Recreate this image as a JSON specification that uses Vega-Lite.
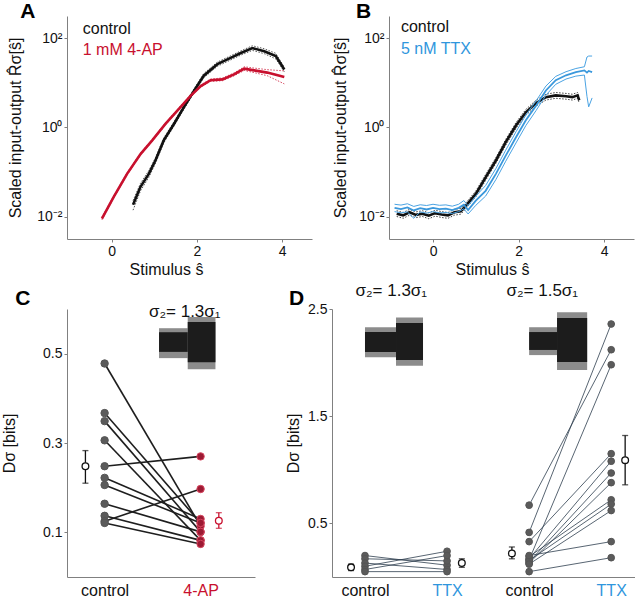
{
  "$schema": "https://vega.github.io/schema/vega-lite/v6.json",
  "padding": {"left": 1, "top": 0, "right": 0, "bottom": 0},
  "config": {
    "font": "Liberation Sans",
    "view": {"stroke": null},
    "axis": {"grid": false, "domainColor": "#808080", "tickColor": "#808080", "labelColor": "#111111", "titleColor": "#111111", "labelFontSize": 14, "titleFontSize": 16, "titleFontWeight": "normal", "tickSize": 3, "labelFont": "Liberation Sans", "titleFont": "Liberation Sans"}
  },
  "datasets": {
    "curveA": [
      {"s":"control","x":0.50,"y":0.0186,"lo":0.014,"hi":0.023},
      {"s":"control","x":0.675,"y":0.0468,"lo":0.038,"hi":0.056},
      {"s":"control","x":0.87,"y":0.0912,"lo":0.076,"hi":0.108},
      {"s":"control","x":1.03,"y":0.186,"lo":0.16,"hi":0.215},
      {"s":"control","x":1.22,"y":0.513,"lo":0.45,"hi":0.58},
      {"s":"control","x":1.46,"y":1.2,"lo":1.07,"hi":1.35},
      {"s":"control","x":1.69,"y":2.82,"lo":2.52,"hi":3.15},
      {"s":"control","x":1.93,"y":6.61,"lo":5.9,"hi":7.4},
      {"s":"control","x":2.16,"y":14.5,"lo":13.0,"hi":16.2},
      {"s":"control","x":2.48,"y":26.3,"lo":23.6,"hi":29.3},
      {"s":"control","x":2.79,"y":36.3,"lo":32.6,"hi":40.5},
      {"s":"control","x":3.03,"y":46.8,"lo":42.0,"hi":52.2},
      {"s":"control","x":3.3,"y":60.3,"lo":53.5,"hi":68.0},
      {"s":"control","x":3.58,"y":51.3,"lo":45.2,"hi":58.2},
      {"s":"control","x":3.85,"y":39.8,"lo":34.5,"hi":46.0},
      {"s":"control","x":4.05,"y":20.0,"lo":17.8,"hi":22.5},
      {"s":"4-AP","x":-0.23,"y":0.0091,"lo":0.0085,"hi":0.0098},
      {"s":"4-AP","x":0.05,"y":0.0282,"lo":0.0265,"hi":0.030},
      {"s":"4-AP","x":0.36,"y":0.0912,"lo":0.086,"hi":0.097},
      {"s":"4-AP","x":0.68,"y":0.257,"lo":0.243,"hi":0.272},
      {"s":"4-AP","x":0.95,"y":0.513,"lo":0.485,"hi":0.542},
      {"s":"4-AP","x":1.26,"y":1.2,"lo":1.13,"hi":1.27},
      {"s":"4-AP","x":1.54,"y":2.4,"lo":2.27,"hi":2.54},
      {"s":"4-AP","x":1.85,"y":5.13,"lo":4.85,"hi":5.42},
      {"s":"4-AP","x":2.09,"y":8.51,"lo":8.0,"hi":9.0},
      {"s":"4-AP","x":2.32,"y":11.5,"lo":10.8,"hi":12.2},
      {"s":"4-AP","x":2.6,"y":12.0,"lo":11.2,"hi":12.9},
      {"s":"4-AP","x":2.87,"y":15.5,"lo":14.4,"hi":16.7},
      {"s":"4-AP","x":3.11,"y":20.9,"lo":19.0,"hi":23.0},
      {"s":"4-AP","x":3.34,"y":19.1,"lo":17.0,"hi":21.5},
      {"s":"4-AP","x":3.65,"y":17.0,"lo":14.5,"hi":19.8},
      {"s":"4-AP","x":4.05,"y":13.5,"lo":9.5,"hi":18.6}
    ],
    "curveB": [
      {"s":"control","x":-0.85,"y":0.0117,"lo":0.0101,"hi":0.0136},
      {"s":"control","x":-0.7,"y":0.0107,"lo":0.0092,"hi":0.0124},
      {"s":"control","x":-0.55,"y":0.0126,"lo":0.0108,"hi":0.0146},
      {"s":"control","x":-0.4,"y":0.011,"lo":0.0095,"hi":0.0128},
      {"s":"control","x":-0.25,"y":0.0117,"lo":0.0101,"hi":0.0136},
      {"s":"control","x":-0.1,"y":0.0105,"lo":0.009,"hi":0.0122},
      {"s":"control","x":0.05,"y":0.012,"lo":0.0103,"hi":0.0139},
      {"s":"control","x":0.2,"y":0.0112,"lo":0.0096,"hi":0.013},
      {"s":"control","x":0.35,"y":0.0107,"lo":0.0092,"hi":0.0124},
      {"s":"control","x":0.5,"y":0.0126,"lo":0.0108,"hi":0.0146},
      {"s":"control","x":0.65,"y":0.0132,"lo":0.0114,"hi":0.0153},
      {"s":"control","x":0.77,"y":0.0178,"lo":0.0153,"hi":0.0206},
      {"s":"control","x":1.0,"y":0.0324,"lo":0.0279,"hi":0.0376},
      {"s":"control","x":1.23,"y":0.0759,"lo":0.0653,"hi":0.088},
      {"s":"control","x":1.47,"y":0.182,"lo":0.157,"hi":0.211},
      {"s":"control","x":1.7,"y":0.468,"lo":0.402,"hi":0.543},
      {"s":"control","x":1.94,"y":1.11,"lo":0.955,"hi":1.29},
      {"s":"control","x":2.17,"y":2.19,"lo":1.88,"hi":2.54},
      {"s":"control","x":2.41,"y":3.55,"lo":3.05,"hi":4.12},
      {"s":"control","x":2.64,"y":4.79,"lo":4.12,"hi":5.56},
      {"s":"control","x":2.87,"y":5.25,"lo":4.52,"hi":6.09},
      {"s":"control","x":3.11,"y":5.01,"lo":4.31,"hi":5.81},
      {"s":"control","x":3.26,"y":4.79,"lo":4.12,"hi":5.56},
      {"s":"control","x":3.38,"y":5.25,"lo":4.52,"hi":6.09},
      {"s":"control","x":3.42,"y":4.07,"lo":3.5,"hi":4.72},
      {"s":"TTX","x":-0.9,"y":0.0158,"lo":0.013,"hi":0.019},
      {"s":"TTX","x":-0.75,"y":0.0148,"lo":0.0122,"hi":0.0182},
      {"s":"TTX","x":-0.6,"y":0.0162,"lo":0.0128,"hi":0.0195},
      {"s":"TTX","x":-0.45,"y":0.0138,"lo":0.0092,"hi":0.017},
      {"s":"TTX","x":-0.3,"y":0.0155,"lo":0.0128,"hi":0.0185},
      {"s":"TTX","x":-0.15,"y":0.0145,"lo":0.012,"hi":0.0178},
      {"s":"TTX","x":0.0,"y":0.0158,"lo":0.013,"hi":0.019},
      {"s":"TTX","x":0.15,"y":0.0148,"lo":0.0122,"hi":0.018},
      {"s":"TTX","x":0.3,"y":0.0151,"lo":0.0124,"hi":0.0184},
      {"s":"TTX","x":0.45,"y":0.0141,"lo":0.0118,"hi":0.0172},
      {"s":"TTX","x":0.6,"y":0.0158,"lo":0.013,"hi":0.019},
      {"s":"TTX","x":0.72,"y":0.0185,"lo":0.015,"hi":0.023},
      {"s":"TTX","x":0.82,"y":0.0141,"lo":0.0115,"hi":0.0175},
      {"s":"TTX","x":1.0,"y":0.0229,"lo":0.018,"hi":0.029},
      {"s":"TTX","x":1.23,"y":0.038,"lo":0.029,"hi":0.05},
      {"s":"TTX","x":1.47,"y":0.0912,"lo":0.068,"hi":0.12},
      {"s":"TTX","x":1.7,"y":0.234,"lo":0.175,"hi":0.31},
      {"s":"TTX","x":1.94,"y":0.603,"lo":0.45,"hi":0.8},
      {"s":"TTX","x":2.17,"y":1.45,"lo":1.1,"hi":1.9},
      {"s":"TTX","x":2.41,"y":3.09,"lo":2.4,"hi":3.95},
      {"s":"TTX","x":2.64,"y":6.76,"lo":5.3,"hi":8.5},
      {"s":"TTX","x":2.87,"y":11.5,"lo":9.3,"hi":14.0},
      {"s":"TTX","x":3.11,"y":14.8,"lo":12.2,"hi":17.8},
      {"s":"TTX","x":3.34,"y":17.4,"lo":14.2,"hi":21.0},
      {"s":"TTX","x":3.54,"y":19.1,"lo":15.0,"hi":23.0},
      {"s":"TTX","x":3.6,"y":17.0,"lo":5.0,"hi":38.0},
      {"s":"TTX","x":3.64,"y":18.5,"lo":2.9,"hi":40.0},
      {"s":"TTX","x":3.72,"y":17.4,"lo":4.6,"hi":40.0}
    ],
    "insets": [
      {"p":"C","k":"fringe","x":1.567,"x2":1.866,"y":0.557,"y2":0.49},
      {"p":"C","k":"fringe","x":1.866,"x2":2.155,"y":0.582,"y2":0.465},
      {"p":"C","k":"core","x":1.567,"x2":1.866,"y":0.548,"y2":0.504},
      {"p":"C","k":"core","x":1.866,"x2":2.155,"y":0.571,"y2":0.481},
      {"p":"D","k":"fringe","x":1.0,"x2":1.378,"y":2.33,"y2":2.05},
      {"p":"D","k":"fringe","x":1.378,"x2":1.707,"y":2.42,"y2":1.97},
      {"p":"D","k":"fringe","x":3.0,"x2":3.34,"y":2.33,"y2":2.07},
      {"p":"D","k":"fringe","x":3.34,"x2":3.707,"y":2.47,"y2":1.93},
      {"p":"D","k":"core","x":1.0,"x2":1.378,"y":2.285,"y2":2.099},
      {"p":"D","k":"core","x":1.378,"x2":1.707,"y":2.369,"y2":2.024},
      {"p":"D","k":"core","x":3.0,"x2":3.34,"y":2.285,"y2":2.118},
      {"p":"D","k":"core","x":3.34,"x2":3.707,"y":2.416,"y2":2.006}
    ],
    "pairsC": [
      {"id":1,"x":1,"y":0.478,"g":"control"},{"id":1,"x":2,"y":0.114,"g":"4-AP"},
      {"id":2,"x":1,"y":0.367,"g":"control"},{"id":2,"x":2,"y":0.121,"g":"4-AP"},
      {"id":3,"x":1,"y":0.349,"g":"control"},{"id":3,"x":2,"y":0.101,"g":"4-AP"},
      {"id":4,"x":1,"y":0.306,"g":"control"},{"id":4,"x":2,"y":0.082,"g":"4-AP"},
      {"id":5,"x":1,"y":0.248,"g":"control"},{"id":5,"x":2,"y":0.270,"g":"4-AP"},
      {"id":6,"x":1,"y":0.222,"g":"control"},{"id":6,"x":2,"y":0.130,"g":"4-AP"},
      {"id":7,"x":1,"y":0.206,"g":"control"},{"id":7,"x":2,"y":0.121,"g":"4-AP"},
      {"id":8,"x":1,"y":0.164,"g":"control"},{"id":8,"x":2,"y":0.101,"g":"4-AP"},
      {"id":9,"x":1,"y":0.137,"g":"control"},{"id":9,"x":2,"y":0.082,"g":"4-AP"},
      {"id":10,"x":1,"y":0.125,"g":"control"},{"id":10,"x":2,"y":0.197,"g":"4-AP"},
      {"id":11,"x":1,"y":0.121,"g":"control"},{"id":11,"x":2,"y":0.074,"g":"4-AP"}
    ],
    "meansC": [
      {"g":"control","x":0.8,"y":0.248,"lo":0.21,"hi":0.283},
      {"g":"4-AP","x":2.19,"y":0.126,"lo":0.109,"hi":0.144}
    ],
    "pairsD": [
      {"id":1,"x":1,"y":0.20,"g":"control"},{"id":1,"x":2,"y":0.11,"g":"TTX"},
      {"id":2,"x":1,"y":0.17,"g":"control"},{"id":2,"x":2,"y":0.15,"g":"TTX"},
      {"id":3,"x":1,"y":0.13,"g":"control"},{"id":3,"x":2,"y":0.07,"g":"TTX"},
      {"id":4,"x":1,"y":0.10,"g":"control"},{"id":4,"x":2,"y":0.24,"g":"TTX"},
      {"id":5,"x":1,"y":0.07,"g":"control"},{"id":5,"x":2,"y":0.20,"g":"TTX"},
      {"id":6,"x":1,"y":0.05,"g":"control"},{"id":6,"x":2,"y":0.05,"g":"TTX"},
      {"id":7,"x":3,"y":0.416,"g":"control"},{"id":7,"x":4,"y":2.36,"g":"TTX"},
      {"id":8,"x":3,"y":0.67,"g":"control"},{"id":8,"x":4,"y":2.12,"g":"TTX"},
      {"id":9,"x":3,"y":0.16,"g":"control"},{"id":9,"x":4,"y":1.98,"g":"TTX"},
      {"id":10,"x":3,"y":0.33,"g":"control"},{"id":10,"x":4,"y":1.15,"g":"TTX"},
      {"id":11,"x":3,"y":0.17,"g":"control"},{"id":11,"x":4,"y":1.08,"g":"TTX"},
      {"id":12,"x":3,"y":0.14,"g":"control"},{"id":12,"x":4,"y":0.97,"g":"TTX"},
      {"id":13,"x":3,"y":0.13,"g":"control"},{"id":13,"x":4,"y":0.88,"g":"TTX"},
      {"id":14,"x":3,"y":0.19,"g":"control"},{"id":14,"x":4,"y":0.72,"g":"TTX"},
      {"id":15,"x":3,"y":0.155,"g":"control"},{"id":15,"x":4,"y":0.68,"g":"TTX"},
      {"id":16,"x":3,"y":0.12,"g":"control"},{"id":16,"x":4,"y":0.62,"g":"TTX"},
      {"id":17,"x":3,"y":0.20,"g":"control"},{"id":17,"x":4,"y":0.33,"g":"TTX"},
      {"id":18,"x":3,"y":0.05,"g":"control"},{"id":18,"x":4,"y":0.18,"g":"TTX"}
    ],
    "meansD": [
      {"g":"control","x":0.83,"y":0.09,"lo":0.06,"hi":0.12},
      {"g":"TTX","x":2.18,"y":0.13,"lo":0.09,"hi":0.17},
      {"g":"control","x":2.79,"y":0.22,"lo":0.17,"hi":0.28},
      {"g":"TTX","x":4.17,"y":1.09,"lo":0.86,"hi":1.32}
    ]
  },
  "spacing": 4,
  "vconcat": [
    {
      "spacing": 77,
      "bounds": "flush",
      "hconcat": [
        {
          "width": 245, "height": 223,
          "layer": [
            {
              "data": {"name": "curveA"},
              "mark": {"type": "line", "strokeWidth": 1, "strokeDash": [1.5, 1.5]},
              "encoding": {
                "x": {"field": "x", "type": "quantitative", "scale": {"domain": [-1.05, 4.7], "nice": false, "zero": false}, "axis": {"values": [0, 2, 4], "title": "Stimulus ŝ", "titleX": 99, "titlePadding": 3}},
                "y": {"field": "lo", "type": "quantitative", "scale": {"type": "log", "domain": [0.00316, 316], "nice": false}, "axis": {"values": [0.01, 1, 100], "labelExpr": "datum.value >= 50 ? '10²' : datum.value >= 0.5 ? '10⁰' : '10⁻²'", "title": "Scaled input-output  R̂σ[ŝ]", "titlePadding": 13}},
                "stroke": {"field": "s", "type": "nominal", "scale": {"domain": ["control", "4-AP"], "range": ["#555555", "#d6455e"]}, "legend": null}
              }
            },
            {
              "data": {"name": "curveA"},
              "mark": {"type": "line", "strokeWidth": 1, "strokeDash": [1.5, 1.5]},
              "encoding": {
                "x": {"field": "x", "type": "quantitative"},
                "y": {"field": "hi", "type": "quantitative"},
                "stroke": {"field": "s", "type": "nominal", "legend": null}
              }
            },
            {
              "data": {"name": "curveA"},
              "mark": {"type": "line", "strokeWidth": 2.6},
              "encoding": {
                "x": {"field": "x", "type": "quantitative"},
                "y": {"field": "y", "type": "quantitative"},
                "color": {"field": "s", "type": "nominal", "scale": {"domain": ["control", "4-AP"], "range": ["#111111", "#c8102e"]}, "legend": null}
              }
            },
            {
              "data": {"values": [{"t": "control", "x": -0.68, "y": 158}]},
              "mark": {"type": "text", "align": "left", "baseline": "middle", "fontSize": 16, "color": "#111111"},
              "encoding": {"x": {"field": "x", "type": "quantitative"}, "y": {"field": "y", "type": "quantitative"}, "text": {"field": "t"}}
            },
            {
              "data": {"values": [{"t": "1 mM 4-AP", "x": -0.68, "y": 54}]},
              "mark": {"type": "text", "align": "left", "baseline": "middle", "fontSize": 16, "color": "#c8102e"},
              "encoding": {"x": {"field": "x", "type": "quantitative"}, "y": {"field": "y", "type": "quantitative"}, "text": {"field": "t"}}
            },
            {
              "data": {"values": [{"t": "A", "x": -2.15, "y": 285}]},
              "mark": {"type": "text", "align": "left", "baseline": "alphabetic", "fontSize": 21, "fontWeight": "bold", "color": "#000000"},
              "encoding": {"x": {"field": "x", "type": "quantitative"}, "y": {"field": "y", "type": "quantitative"}, "text": {"field": "t"}}
            }
          ]
        },
        {
          "width": 245, "height": 223,
          "layer": [
            {
              "data": {"name": "curveB"},
              "transform": [{"filter": "datum.s == 'control'"}],
              "mark": {"type": "line", "strokeWidth": 1, "strokeDash": [1.5, 1.5], "color": "#444444"},
              "encoding": {
                "x": {"field": "x", "type": "quantitative", "scale": {"domain": [-1.03, 4.7], "nice": false, "zero": false}, "axis": {"values": [0, 2, 4], "title": "Stimulus ŝ", "titleX": 103, "titlePadding": 3}},
                "y": {"field": "lo", "type": "quantitative", "scale": {"type": "log", "domain": [0.00316, 316], "nice": false}, "axis": {"values": [0.01, 1, 100], "labelExpr": "datum.value >= 50 ? '10²' : datum.value >= 0.5 ? '10⁰' : '10⁻²'", "title": "Scaled input-output  R̂σ[ŝ]", "titlePadding": 10}}
              }
            },
            {
              "data": {"name": "curveB"},
              "transform": [{"filter": "datum.s == 'control'"}],
              "mark": {"type": "line", "strokeWidth": 1, "strokeDash": [1.5, 1.5], "color": "#444444"},
              "encoding": {"x": {"field": "x", "type": "quantitative"}, "y": {"field": "hi", "type": "quantitative"}}
            },
            {
              "data": {"name": "curveB"},
              "transform": [{"filter": "datum.s == 'control'"}],
              "mark": {"type": "line", "strokeWidth": 2.6, "color": "#111111"},
              "encoding": {"x": {"field": "x", "type": "quantitative"}, "y": {"field": "y", "type": "quantitative"}}
            },
            {
              "data": {"name": "curveB"},
              "transform": [{"filter": "datum.s == 'TTX'"}],
              "mark": {"type": "line", "strokeWidth": 1, "color": "#4aa3e3"},
              "encoding": {"x": {"field": "x", "type": "quantitative"}, "y": {"field": "lo", "type": "quantitative"}}
            },
            {
              "data": {"name": "curveB"},
              "transform": [{"filter": "datum.s == 'TTX'"}],
              "mark": {"type": "line", "strokeWidth": 1, "color": "#4aa3e3"},
              "encoding": {"x": {"field": "x", "type": "quantitative"}, "y": {"field": "hi", "type": "quantitative"}}
            },
            {
              "data": {"name": "curveB"},
              "transform": [{"filter": "datum.s == 'TTX'"}],
              "mark": {"type": "line", "strokeWidth": 1.8, "color": "#3a98dc"},
              "encoding": {"x": {"field": "x", "type": "quantitative"}, "y": {"field": "y", "type": "quantitative"}}
            },
            {
              "data": {"values": [{"t": "control", "x": -0.75, "y": 175}]},
              "mark": {"type": "text", "align": "left", "baseline": "middle", "fontSize": 16, "color": "#111111"},
              "encoding": {"x": {"field": "x", "type": "quantitative"}, "y": {"field": "y", "type": "quantitative"}, "text": {"field": "t"}}
            },
            {
              "data": {"values": [{"t": "5 nM TTX", "x": -0.75, "y": 57}]},
              "mark": {"type": "text", "align": "left", "baseline": "middle", "fontSize": 16, "color": "#2f96dd"},
              "encoding": {"x": {"field": "x", "type": "quantitative"}, "y": {"field": "y", "type": "quantitative"}, "text": {"field": "t"}}
            },
            {
              "data": {"values": [{"t": "B", "x": -1.8, "y": 285}]},
              "mark": {"type": "text", "align": "left", "baseline": "alphabetic", "fontSize": 21, "fontWeight": "bold", "color": "#000000"},
              "encoding": {"x": {"field": "x", "type": "quantitative"}, "y": {"field": "y", "type": "quantitative"}, "text": {"field": "t"}}
            }
          ]
        }
      ]
    },
    {
      "spacing": 77,
      "bounds": "flush",
      "hconcat": [
        {
          "width": 188, "height": 268,
          "layer": [
            {
              "data": {"name": "insets"},
              "transform": [{"filter": "datum.p == 'C' && datum.k == 'fringe'"}],
              "mark": {"type": "rect", "color": "#8c8c8c"},
              "encoding": {
                "x": {"field": "x", "type": "quantitative", "scale": {"domain": [0.608, 2.567], "nice": false, "zero": false}, "axis": {"values": [1, 2], "labelExpr": "datum.value == 1 ? 'control' : '4-AP'", "ticks": false, "labelFontSize": 16, "labelPadding": 5, "title": null, "labelColor": {"condition": {"test": "datum.value == 2", "value": "#c8102e"}, "value": "#111111"}}},
                "x2": {"field": "x2"},
                "y": {"field": "y", "type": "quantitative", "scale": {"domain": [0, 0.6], "nice": false, "zero": false}, "axis": {"values": [0.1, 0.3, 0.5], "format": ".1f", "title": "Dσ [bits]", "titlePadding": 25}},
                "y2": {"field": "y2"}
              }
            },
            {
              "data": {"name": "insets"},
              "transform": [{"filter": "datum.p == 'C' && datum.k == 'core'"}],
              "mark": {"type": "rect", "color": "#1c1c1c"},
              "encoding": {"x": {"field": "x", "type": "quantitative"}, "x2": {"field": "x2"}, "y": {"field": "y", "type": "quantitative"}, "y2": {"field": "y2"}}
            },
            {
              "data": {"name": "pairsC"},
              "mark": {"type": "line", "strokeWidth": 1.6, "color": "#1e1e1e"},
              "encoding": {"x": {"field": "x", "type": "quantitative"}, "y": {"field": "y", "type": "quantitative"}, "detail": {"field": "id"}}
            },
            {
              "data": {"name": "pairsC"},
              "mark": {"type": "point", "filled": true, "size": 55, "strokeWidth": 1, "opacity": 1},
              "encoding": {
                "x": {"field": "x", "type": "quantitative"}, "y": {"field": "y", "type": "quantitative"},
                "fill": {"field": "g", "type": "nominal", "scale": {"domain": ["control", "4-AP"], "range": ["#5b5b5b", "#9c1a33"]}, "legend": null},
                "stroke": {"field": "g", "type": "nominal", "scale": {"domain": ["control", "4-AP"], "range": ["#333333", "#6d0e20"]}, "legend": null}
              }
            },
            {
              "data": {"name": "meansC"},
              "mark": {"type": "rule", "strokeWidth": 1.3},
              "encoding": {"x": {"field": "x", "type": "quantitative"}, "y": {"field": "lo", "type": "quantitative"}, "y2": {"field": "hi"}, "color": {"field": "g", "type": "nominal", "scale": {"domain": ["control", "4-AP"], "range": ["#222222", "#c8102e"]}, "legend": null}}
            },
            {
              "data": {"name": "meansC"},
              "mark": {"type": "tick", "orient": "horizontal", "size": 6, "thickness": 1.3},
              "encoding": {"x": {"field": "x", "type": "quantitative"}, "y": {"field": "lo", "type": "quantitative"}, "color": {"field": "g", "type": "nominal", "legend": null}}
            },
            {
              "data": {"name": "meansC"},
              "mark": {"type": "tick", "orient": "horizontal", "size": 6, "thickness": 1.3},
              "encoding": {"x": {"field": "x", "type": "quantitative"}, "y": {"field": "hi", "type": "quantitative"}, "color": {"field": "g", "type": "nominal", "legend": null}}
            },
            {
              "data": {"name": "meansC"},
              "mark": {"type": "point", "filled": false, "fill": "white", "fillOpacity": 1, "size": 45, "strokeWidth": 1.3, "opacity": 1},
              "encoding": {"x": {"field": "x", "type": "quantitative"}, "y": {"field": "y", "type": "quantitative"}, "color": {"field": "g", "type": "nominal", "legend": null}}
            },
            {
              "data": {"values": [{"t": "σ₂= 1.3σ₁", "x": 1.835, "y": 0.593}]},
              "mark": {"type": "text", "align": "center", "baseline": "middle", "fontSize": 17, "color": "#111111"},
              "encoding": {"x": {"field": "x", "type": "quantitative"}, "y": {"field": "y", "type": "quantitative"}, "text": {"field": "t"}}
            },
            {
              "data": {"values": [{"t": "C", "x": 0.07, "y": 0.609}]},
              "mark": {"type": "text", "align": "left", "baseline": "alphabetic", "fontSize": 21, "fontWeight": "bold", "color": "#000000"},
              "encoding": {"x": {"field": "x", "type": "quantitative"}, "y": {"field": "y", "type": "quantitative"}, "text": {"field": "t"}}
            }
          ]
        },
        {
          "width": 303, "height": 268,
          "layer": [
            {
              "data": {"name": "insets"},
              "transform": [{"filter": "datum.p == 'D' && datum.k == 'fringe'"}],
              "mark": {"type": "rect", "color": "#8c8c8c"},
              "encoding": {
                "x": {"field": "x", "type": "quantitative", "scale": {"domain": [0.598, 4.29], "nice": false, "zero": false}, "axis": {"values": [1, 2, 3, 4], "labelExpr": "datum.value == 1 || datum.value == 3 ? 'control' : 'TTX'", "ticks": false, "labelFontSize": 16, "labelPadding": 5, "title": null, "labelColor": {"condition": {"test": "datum.value == 2 || datum.value == 4", "value": "#2f96dd"}, "value": "#111111"}}},
                "x2": {"field": "x2"},
                "y": {"field": "y", "type": "quantitative", "scale": {"domain": [0, 2.5], "nice": false, "zero": false}, "axis": {"values": [0.5, 1.5, 2.5], "format": ".1f", "title": "Dσ [bits]", "titlePadding": 6}},
                "y2": {"field": "y2"}
              }
            },
            {
              "data": {"name": "insets"},
              "transform": [{"filter": "datum.p == 'D' && datum.k == 'core'"}],
              "mark": {"type": "rect", "color": "#1c1c1c"},
              "encoding": {"x": {"field": "x", "type": "quantitative"}, "x2": {"field": "x2"}, "y": {"field": "y", "type": "quantitative"}, "y2": {"field": "y2"}}
            },
            {
              "data": {"name": "pairsD"},
              "mark": {"type": "line", "strokeWidth": 0.8, "color": "#2d3e4e"},
              "encoding": {"x": {"field": "x", "type": "quantitative"}, "y": {"field": "y", "type": "quantitative"}, "detail": {"field": "id"}}
            },
            {
              "data": {"name": "pairsD"},
              "mark": {"type": "point", "filled": true, "size": 45, "strokeWidth": 1, "opacity": 1},
              "encoding": {
                "x": {"field": "x", "type": "quantitative"}, "y": {"field": "y", "type": "quantitative"},
                "fill": {"field": "g", "type": "nominal", "scale": {"domain": ["control", "TTX"], "range": ["#5b5b5b", "#4a93cc"]}, "legend": null},
                "stroke": {"field": "g", "type": "nominal", "scale": {"domain": ["control", "TTX"], "range": ["#3a3a3a", "#2e6fa3"]}, "legend": null}
              }
            },
            {
              "data": {"name": "meansD"},
              "mark": {"type": "rule", "strokeWidth": 1.3},
              "encoding": {"x": {"field": "x", "type": "quantitative"}, "y": {"field": "lo", "type": "quantitative"}, "y2": {"field": "hi"}, "color": {"field": "g", "type": "nominal", "scale": {"domain": ["control", "TTX"], "range": ["#222222", "#5aaee3"]}, "legend": null}}
            },
            {
              "data": {"name": "meansD"},
              "mark": {"type": "tick", "orient": "horizontal", "size": 6, "thickness": 1.3},
              "encoding": {"x": {"field": "x", "type": "quantitative"}, "y": {"field": "lo", "type": "quantitative"}, "color": {"field": "g", "type": "nominal", "legend": null}}
            },
            {
              "data": {"name": "meansD"},
              "mark": {"type": "tick", "orient": "horizontal", "size": 6, "thickness": 1.3},
              "encoding": {"x": {"field": "x", "type": "quantitative"}, "y": {"field": "hi", "type": "quantitative"}, "color": {"field": "g", "type": "nominal", "legend": null}}
            },
            {
              "data": {"name": "meansD"},
              "mark": {"type": "point", "filled": false, "fill": "white", "fillOpacity": 1, "size": 45, "strokeWidth": 1.3, "opacity": 1},
              "encoding": {"x": {"field": "x", "type": "quantitative"}, "y": {"field": "y", "type": "quantitative"}, "color": {"field": "g", "type": "nominal", "legend": null}}
            },
            {
              "data": {"values": [{"t": "σ₂= 1.3σ₁", "x": 1.32, "y": 2.67}, {"t": "σ₂= 1.5σ₁", "x": 3.16, "y": 2.67}]},
              "mark": {"type": "text", "align": "center", "baseline": "middle", "fontSize": 17, "color": "#111111"},
              "encoding": {"x": {"field": "x", "type": "quantitative"}, "y": {"field": "y", "type": "quantitative"}, "text": {"field": "t"}}
            },
            {
              "data": {"values": [{"t": "D", "x": 0.074, "y": 2.537}]},
              "mark": {"type": "text", "align": "left", "baseline": "alphabetic", "fontSize": 21, "fontWeight": "bold", "color": "#000000"},
              "encoding": {"x": {"field": "x", "type": "quantitative"}, "y": {"field": "y", "type": "quantitative"}, "text": {"field": "t"}}
            }
          ]
        }
      ]
    }
  ]
}
